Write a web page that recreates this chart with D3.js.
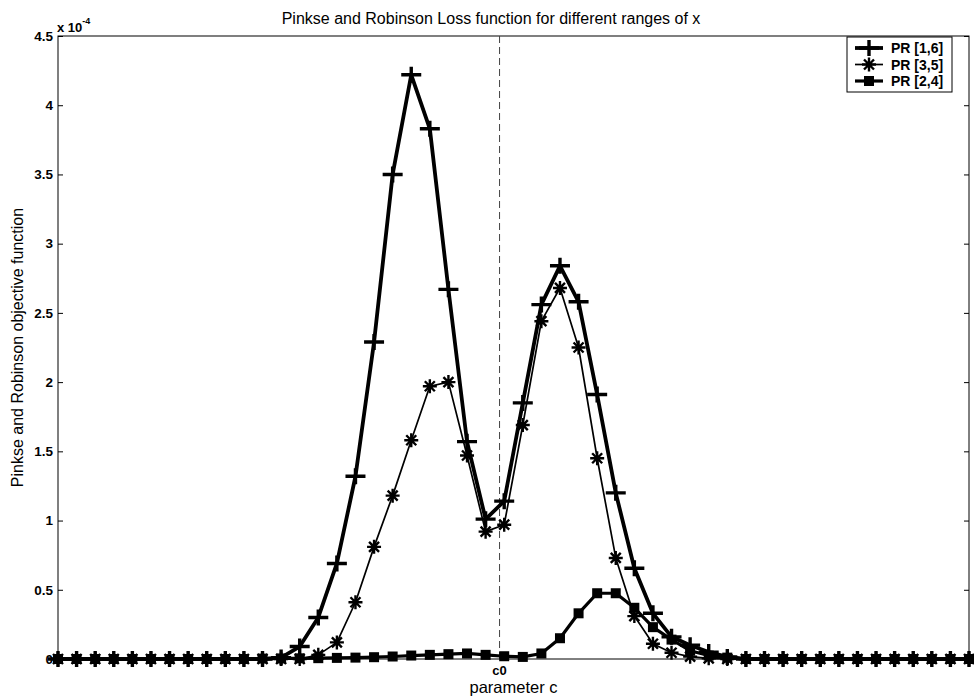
<!DOCTYPE html>
<html>
<head>
<meta charset="utf-8">
<script src="https://cdn.jsdelivr.net/npm/d3@7"></script>
<style>
  body { margin: 0; background: #fff; }
  svg { display: block; font-family: "Liberation Sans", Arial, sans-serif; }
</style>
</head>
<body>
<svg id="chart" width="974" height="698"></svg>
<script>
// grid of parameter values (index of c along the scan)
const cGrid = d3.range(50);
const c0 = 23.75;

// objective values, in units of 1e-4
const pr16 = [0, 0, 0, 0, 0, 0, 0, 0, 0, 0, 0, 0, 0.01,
  0.09, 0.30, 0.69, 1.32, 2.29, 3.50, 4.22, 3.83, 2.67, 1.57, 1.01, 1.14,
  1.85, 2.56, 2.84, 2.58, 1.91, 1.20, 0.655, 0.33, 0.16, 0.10, 0.05, 0.015,
  0, 0, 0, 0, 0, 0, 0, 0, 0, 0, 0, 0, 0];
const pr35 = [0, 0, 0, 0, 0, 0, 0, 0, 0, 0, 0, 0, 0, 0,
  0.03, 0.12, 0.41, 0.81, 1.18, 1.58, 1.97, 2.00, 1.47, 0.92, 0.97,
  1.69, 2.44, 2.68, 2.25, 1.45, 0.73, 0.31, 0.11, 0.045, 0.017, 0.005,
  0, 0, 0, 0, 0, 0, 0, 0, 0, 0, 0, 0, 0, 0];
const pr24 = [0, 0, 0, 0, 0, 0, 0, 0, 0, 0, 0,
  0.003, 0.004, 0.005, 0.006, 0.008, 0.01, 0.013, 0.018, 0.025, 0.03,
  0.035, 0.04, 0.03, 0.02, 0.015, 0.04, 0.15, 0.33, 0.475, 0.475, 0.37,
  0.23, 0.14, 0.06, 0.025, 0.01,
  0, 0, 0, 0, 0, 0, 0, 0, 0, 0, 0, 0, 0];

const seriesNames = ["PR [1,6]", "PR [3,5]", "PR [2,4]"];
const yTicks = [0, 0.5, 1, 1.5, 2, 2.5, 3, 3.5, 4, 4.5];

const series = [
  {name: seriesNames[0], values: pr16, marker: "plus", width: 3.8},
  {name: seriesNames[1], values: pr35, marker: "star", width: 1.7},
  {name: seriesNames[2], values: pr24, marker: "square", width: 3.2}
];

const margin = {left: 58, right: 5, top: 36, bottom: 39};
const svg = d3.select("#chart");
const W = +svg.attr("width"), H = +svg.attr("height");

const x = d3.scaleLinear()
  .domain(d3.extent(cGrid))
  .range([margin.left, W - margin.right]);
const y = d3.scaleLinear()
  .domain([0, 4.5])
  .range([H - margin.bottom, margin.top]);

// axes box
const plot = svg.append("g");
plot.append("rect")
  .attr("x", x.range()[0]).attr("y", y.range()[1])
  .attr("width", x.range()[1] - x.range()[0])
  .attr("height", y.range()[0] - y.range()[1])
  .attr("fill", "none").attr("stroke", "#000").attr("stroke-width", 1);

// ticks pointing inward on both sides
const yAxisL = d3.axisRight(y).tickValues(yTicks).tickSize(5).tickFormat("");
plot.append("g").attr("transform", `translate(${x.range()[0]},0)`).call(yAxisL)
  .call(g => g.select(".domain").remove());
const yAxisR = d3.axisLeft(y).tickValues(yTicks).tickSize(5).tickFormat("");
plot.append("g").attr("transform", `translate(${x.range()[1]},0)`).call(yAxisR)
  .call(g => g.select(".domain").remove());

plot.selectAll(".ylab")
  .data(yTicks)
  .enter().append("text")
  .attr("class", "ylab")
  .attr("x", margin.left - 5)
  .attr("y", d => y(d))
  .attr("dy", "0.35em")
  .attr("text-anchor", "end")
  .attr("font-size", 13.5).attr("font-weight", "bold")
  .text(d => d);

// exponent label
const expo = svg.append("text")
  .attr("x", margin.left - 1).attr("y", 32)
  .attr("font-size", 13).attr("font-weight", "bold");
expo.append("tspan").text("x 10");
expo.append("tspan").attr("dy", -8).attr("font-size", 9).text("-4");

// c0 dashed line and tick label
plot.append("line")
  .attr("x1", x(c0)).attr("x2", x(c0))
  .attr("y1", y.range()[1]).attr("y2", y.range()[0])
  .attr("stroke", "#444").attr("stroke-width", 1)
  .attr("stroke-dasharray", "7,4");
svg.append("text")
  .attr("x", x(c0)).attr("y", H - margin.bottom + 16)
  .attr("text-anchor", "middle")
  .attr("font-size", 13).attr("font-weight", "bold")
  .text("c0");

// titles
svg.append("text")
  .attr("x", 491).attr("y", 24)
  .attr("text-anchor", "middle").attr("font-size", 16)
  .text("Pinkse and Robinson Loss function for different ranges of x");
svg.append("text")
  .attr("x", (x.range()[0] + x.range()[1]) / 2).attr("y", 693)
  .attr("text-anchor", "middle").attr("font-size", 16.5)
  .text("parameter c");
svg.append("text")
  .attr("transform", `translate(23,${(y.range()[0] + y.range()[1]) / 2}) rotate(-90)`)
  .attr("text-anchor", "middle").attr("font-size", 16)
  .text("Pinkse and Robinson objective function");

// marker drawing
function drawMarker(g, type) {
  if (type === "plus") {
    g.append("path").attr("d", "M-10,0H10M0,-8V8")
      .attr("stroke", "#000").attr("stroke-width", 3.4).attr("fill", "none");
  } else if (type === "star") {
    g.append("path").attr("d", "M-7,0H7M0,-7V7M-5,-5L5,5M-5,5L5,-5")
      .attr("stroke", "#000").attr("stroke-width", 2.4).attr("fill", "none");
  } else {
    g.append("rect").attr("x", -5).attr("y", -5).attr("width", 10).attr("height", 10)
      .attr("fill", "#000");
  }
}

const line = d3.line()
  .x((d, i) => x(cGrid[i]))
  .y(d => y(d));

series.forEach(s => {
  const g = svg.append("g").attr("class", "series");
  g.append("path")
    .datum(s.values)
    .attr("d", line)
    .attr("fill", "none").attr("stroke", "#000")
    .attr("stroke-width", s.width).attr("stroke-linejoin", "round");
  g.selectAll("g.mk")
    .data(s.values)
    .enter().append("g")
    .attr("class", "mk")
    .attr("transform", (d, i) => `translate(${x(cGrid[i])},${y(d)})`)
    .each(function () { drawMarker(d3.select(this), s.marker); });
});

// legend
const leg = svg.append("g").attr("transform", "translate(847,37)");
leg.append("rect").attr("width", 105).attr("height", 55)
  .attr("fill", "#fff").attr("stroke", "#000").attr("stroke-width", 1);
series.forEach((s, i) => {
  const row = leg.append("g").attr("transform", `translate(0,${11 + i * 16.5})`);
  row.append("line").attr("x1", 8).attr("x2", 36)
    .attr("stroke", "#000").attr("stroke-width", s.width);
  drawMarker(row.append("g").attr("transform", "translate(22,0)"), s.marker);
  row.append("text").attr("x", 44).attr("dy", "0.36em")
    .attr("font-size", 14).attr("font-weight", "bold")
    .text(s.name);
});
</script>
</body>
</html>
